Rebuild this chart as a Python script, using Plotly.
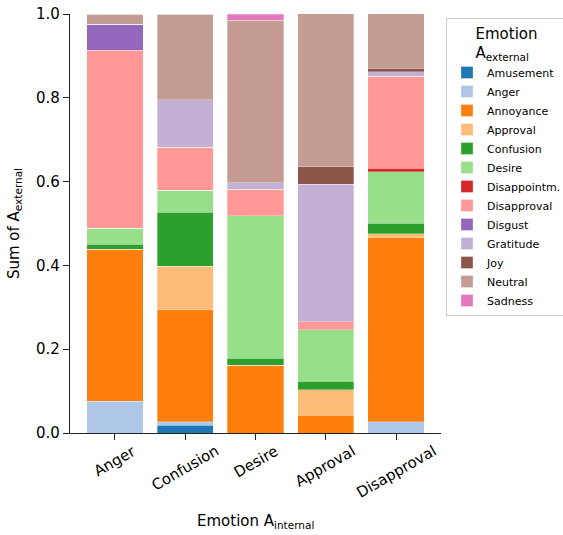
import plotly.graph_objects as go

internal = ["Anger", "Confusion", "Desire", "Approval", "Disapproval"]

external = ["Amusement", "Anger", "Annoyance", "Approval", "Confusion", "Desire",
            "Disappointm.", "Disapproval", "Disgust", "Gratitude", "Joy", "Neutral", "Sadness"]

colors = ["#1f77b4", "#aec7e8", "#ff7f0e", "#ffbb78", "#2ca02c", "#98df8a",
          "#d62728", "#ff9896", "#9467bd", "#c5b0d5", "#8c564b", "#c49c94", "#e377c2"]

# share of each external emotion within each internal emotion
amusement    = [0.000, 0.018, 0.000, 0.000, 0.000]
anger        = [0.076, 0.009, 0.000, 0.000, 0.027]
annoyance    = [0.362, 0.267, 0.162, 0.042, 0.439]
approval     = [0.000, 0.104, 0.000, 0.061, 0.009]
confusion    = [0.013, 0.129, 0.017, 0.020, 0.026]
desire       = [0.038, 0.052, 0.339, 0.123, 0.122]
disappoint   = [0.000, 0.000, 0.000, 0.000, 0.009]
disapproval  = [0.425, 0.103, 0.064, 0.020, 0.220]
disgust      = [0.062, 0.000, 0.000, 0.000, 0.000]
gratitude    = [0.000, 0.113, 0.015, 0.328, 0.010]
joy          = [0.000, 0.000, 0.000, 0.041, 0.009]
neutral      = [0.024, 0.205, 0.388, 0.366, 0.130]
sadness      = [0.000, 0.000, 0.014, 0.000, 0.000]

series = [amusement, anger, annoyance, approval, confusion, desire, disappoint,
          disapproval, disgust, gratitude, joy, neutral, sadness]

font = "DejaVu Sans, Arial, sans-serif"
W, H = 563, 535
ML, MR, MT, MB = 70, 122, 14, 102
TICK_FS = 15

# DejaVu Sans advance widths (units per em = 2048) for the label glyphs
GLYPH_W = {"A": 1401, "C": 1430, "D": 1577, "a": 1255, "e": 1260, "f": 721,
           "g": 1300, "i": 569, "l": 569, "n": 1298, "o": 1253, "p": 1300,
           "r": 842, "s": 1067, "u": 1298, "v": 1212}


def text_width(s, size):
    return sum(GLYPH_W.get(c, 1200) for c in s) * size / 2048.0


fig = go.Figure()
for name, vals, col in zip(external, series, colors):
    fig.add_trace(go.Bar(
        x=list(range(len(internal))), y=vals, name=name,
        marker=dict(color=col, line=dict(color="rgba(255,255,255,0.6)", width=0.5)),
        width=0.8,
    ))

# category labels rotated 30 degrees, centred under each tick with the
# top of the rotated box at a fixed distance below the axis
annotations = []
top_gap = 9
line_h = 1.16 * TICK_FS
for i, lab in enumerate(internal):
    w = text_width(lab, TICK_FS)
    box_h = w * 0.5 + line_h * 0.866
    annotations.append(dict(
        x=i, xref="x", y=0, yref="paper", yshift=-(top_gap + box_h / 2),
        text=lab, textangle=-30, showarrow=False,
        xanchor="center", yanchor="middle",
        font=dict(size=TICK_FS, family=font, color="black"),
    ))
annotations.append(dict(
    x=0.5, xref="paper", y=0, yref="paper", yshift=-88,
    text="Emotion A<sub>internal</sub>", showarrow=False,
    xanchor="center", yanchor="middle",
    font=dict(size=15, family=font, color="black"),
))

fig.update_layout(
    barmode="stack",
    width=W, height=H,
    margin=dict(l=ML, r=MR, t=MT, b=MB, autoexpand=False),
    plot_bgcolor="white", paper_bgcolor="white",
    font=dict(family=font, color="black", size=13),
    annotations=annotations,
    legend=dict(
        title=dict(text="Emotion<br>A<sub>external</sub>", font=dict(size=15), side="top center"),
        traceorder="normal",
        xref="container", yref="container",
        x=446 / W, xanchor="left", y=1 - 18 / H, yanchor="top",
        bordercolor="#cccccc", borderwidth=1,
        font=dict(size=11),
        itemwidth=30,
        maxheight=480,
    ),
    xaxis=dict(
        range=[-0.64, 4.64],
        tickmode="array", tickvals=list(range(len(internal))),
        showticklabels=False,
        ticks="outside", ticklen=6, tickwidth=1.2, tickcolor="#222",
        showline=True, linecolor="#222", linewidth=1.2,
        showgrid=False, zeroline=False, automargin=False,
    ),
    yaxis=dict(
        range=[0, 1.0],
        tickmode="array", tickvals=[0, 0.2, 0.4, 0.6, 0.8, 1.0],
        ticktext=["0.0", "0.2", "0.4", "0.6", "0.8", "1.0"],
        ticks="outside", ticklen=6, tickwidth=1.2, tickcolor="#222",
        showline=True, linecolor="#222", linewidth=1.2,
        showgrid=False, zeroline=False, automargin=False,
        tickfont=dict(size=TICK_FS),
        title=dict(text="Sum of A<sub>external</sub>", font=dict(size=15), standoff=12),
    ),
)

fig.write_html("out.html")
